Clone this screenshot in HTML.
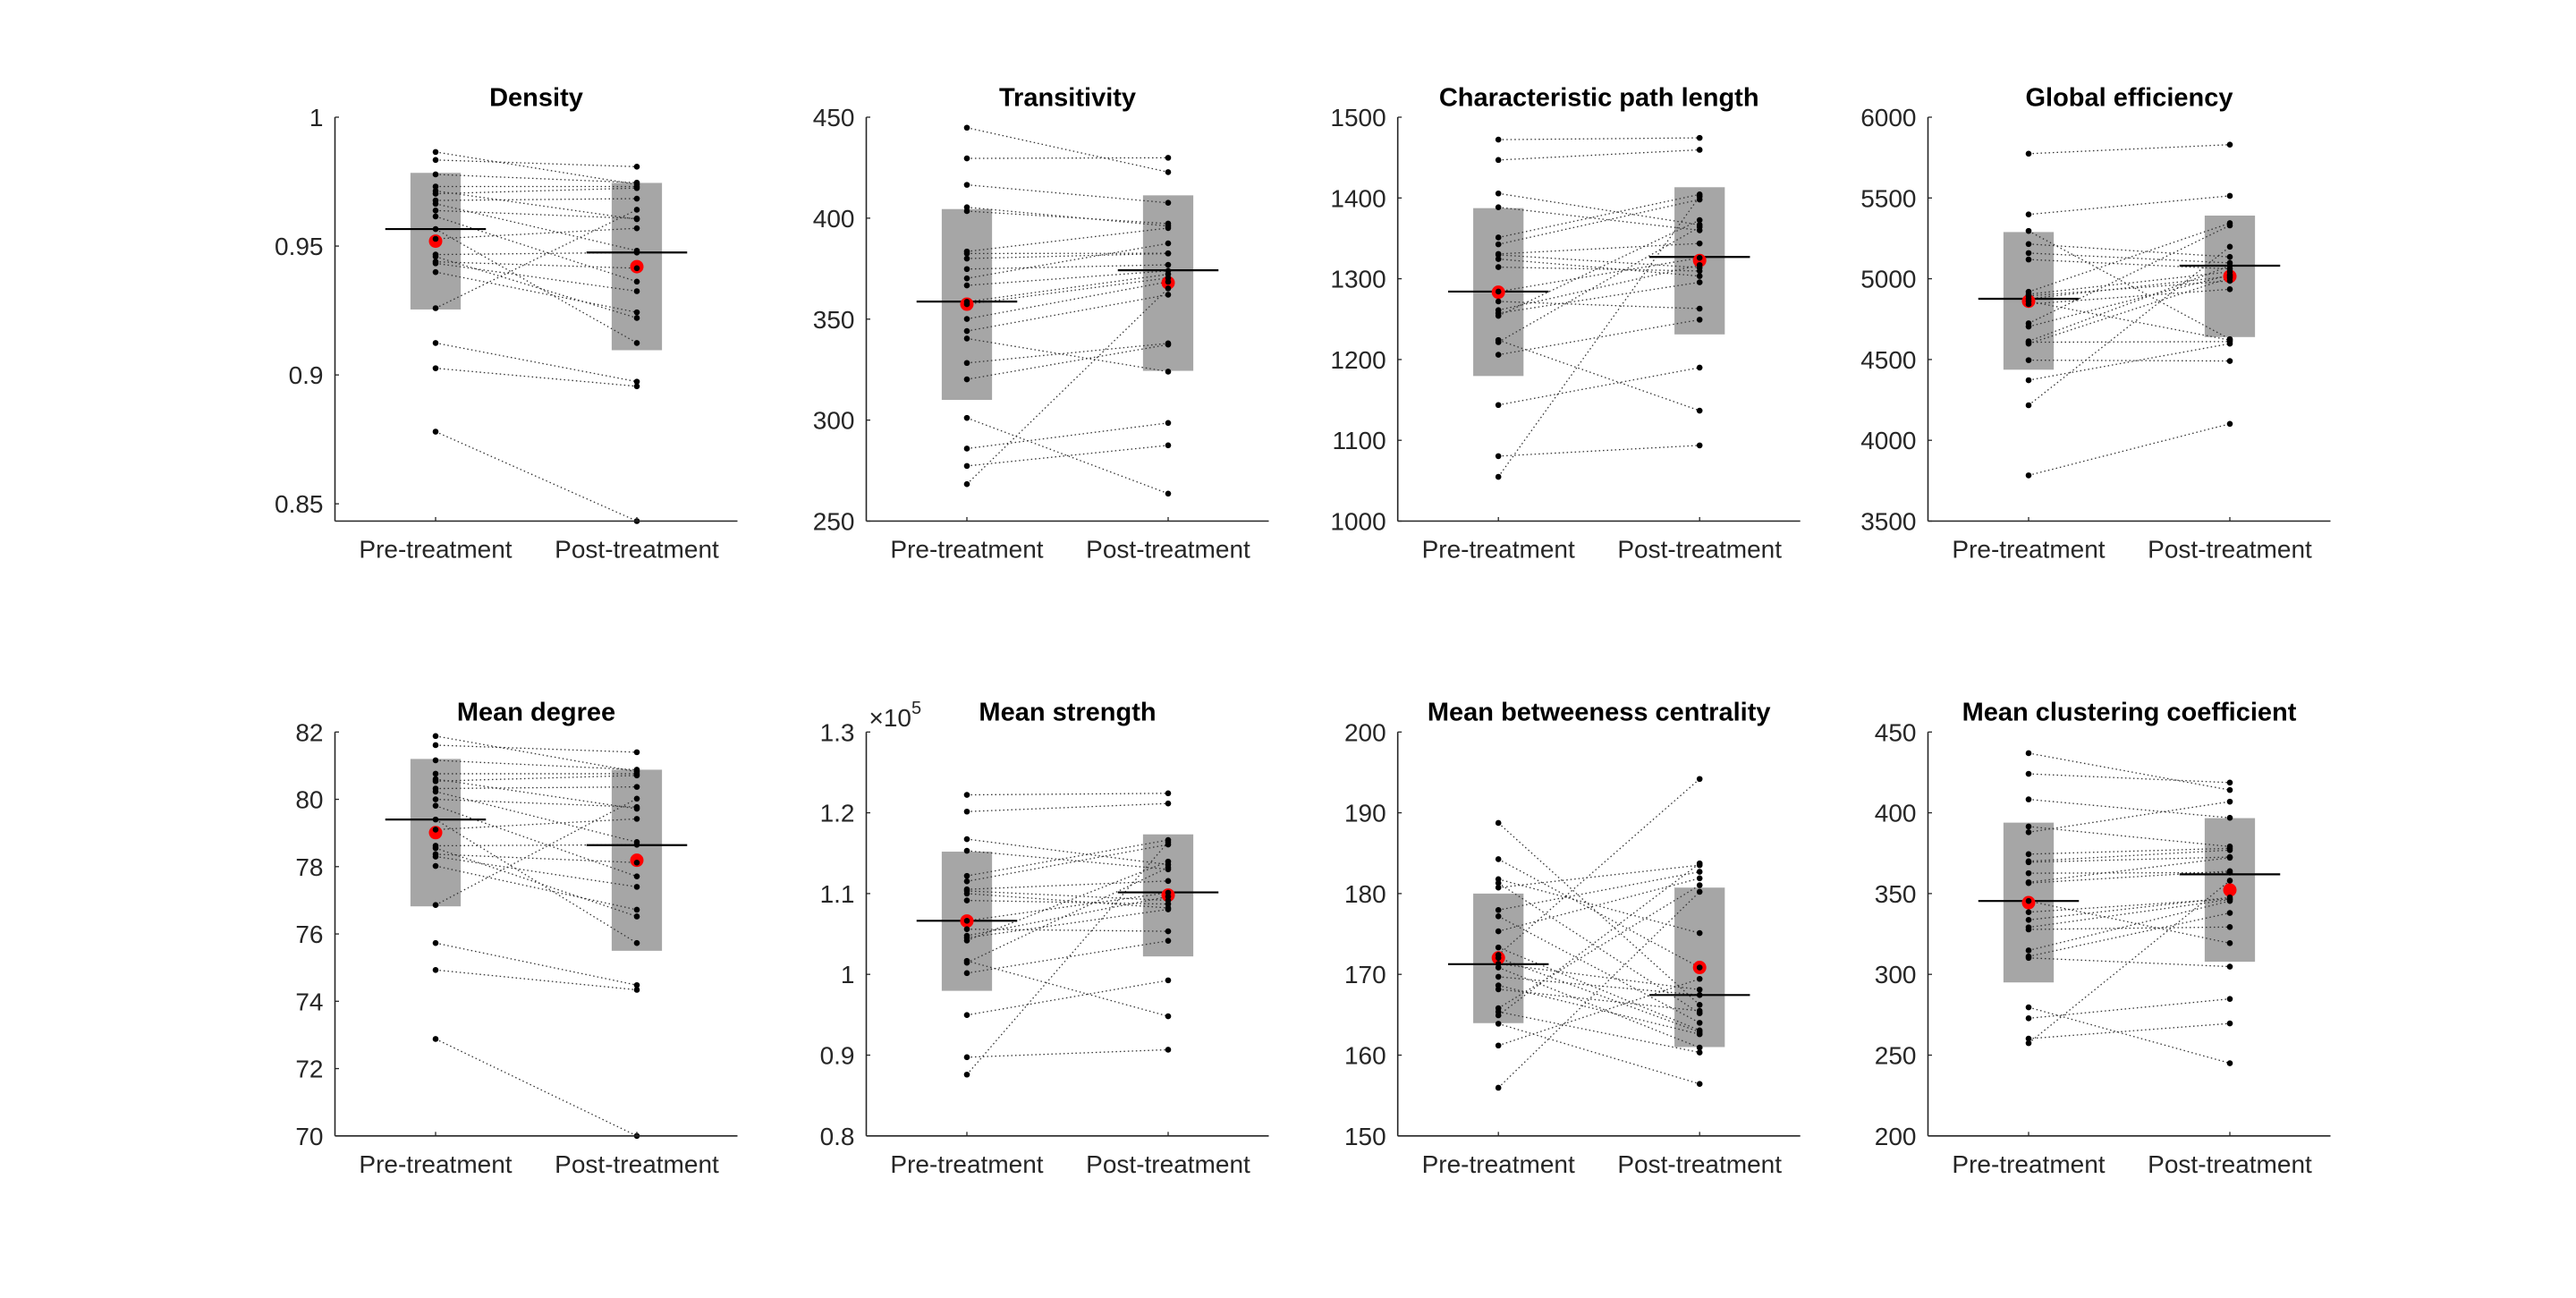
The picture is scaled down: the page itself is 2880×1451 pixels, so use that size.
<!DOCTYPE html>
<html><head><meta charset="utf-8"><style>
html,body{margin:0;padding:0;background:#fff;}
svg{display:block;font-family:"Liberation Sans",Arial,sans-serif;}
</style></head><body>
<svg id="fig" width="2880" height="1451" viewBox="0 0 2880 1451" xmlns="http://www.w3.org/2000/svg"></svg>
<script>
const categories = ["Pre-treatment", "Post-treatment"];
const titles = ["Density","Transitivity","Characteristic path length","Global efficiency","Mean degree","Mean strength","Mean betweeness centrality","Mean clustering coefficient"];

const densityPre  = [0.9865,0.9834,0.9778,0.9731,0.9714,0.9703,0.9677,0.9664,0.9638,0.9615,0.9566,0.9528,0.9467,0.9459,0.9439,0.9433,0.9399,0.9259,0.9124,0.9026,0.8780];
const densityPost = [0.9739,0.9808,0.9746,0.9731,0.9604,0.9725,0.9684,0.9482,0.9607,0.9362,0.9124,0.9569,0.9475,0.9221,0.9414,0.9325,0.9243,0.9641,0.8974,0.8956,0.8433];
const densityStats = {boxPre:[0.9254,0.9784], meanPre:0.9566, medPre:0.9519, boxPost:[0.9096,0.9745], meanPost:0.9475, medPost:0.9420};

const transPre  = [444.8,429.6,416.5,405.4,403.5,383.5,382.5,380.0,374.8,370.2,366.7,358.6,357.4,350.1,344.1,340.4,328.3,320.2,301.1,285.9,277.3,268.3];
const transPost = [422.8,429.9,407.6,396.1,397.3,395.1,382.6,382.5,376.9,387.5,373.9,372.2,370.4,368.5,362.1,324.0,338.0,337.4,263.6,298.6,287.5,365.2];
const transStats = {boxPre:[310.0,404.5], meanPre:358.7, medPre:357.4, boxPost:[324.4,411.3], meanPost:374.2, medPost:368.0};

const cplPre  = [1472.2,1447.0,1405.6,1388.5,1351.1,1342.6,1330.7,1329.6,1324.4,1314.4,1284.1,1271.9,1261.1,1257.4,1254.1,1224.1,1221.5,1205.9,1143.7,1080.4,1054.8];
const cplPost = [1474.4,1459.6,1366.7,1360.0,1404.4,1398.1,1343.7,1313.7,1303.3,1309.6,1325.9,1263.0,1317.0,1295.6,1372.6,1136.7,1364.1,1249.3,1190.0,1093.7,1401.9];
const cplStats = {boxPre:[1179.6,1387.4], meanPre:1284.1, medPre:1283.3, boxPost:[1231.1,1413.3], meanPost:1327.0, medPost:1322.6};

const gePre  = [5774,5398,5296,5215,5159,5119,4919,4904,4894,4876,4861,4843,4724,4704,4613,4607,4598,4496,4372,4217,3783];
const gePost = [5830,5513,4626,5135,5098,5061,5344,5043,4987,5015,4620,4935,5330,5024,5080,4611,5006,4491,4598,5198,4102];
const geStats = {boxPre:[4437,5289], meanPre:4876, medPre:4861, boxPost:[4639,5391], meanPost:5081, medPost:5015};

const degPre  = [81.88,81.61,81.16,80.76,80.60,80.54,80.32,80.23,80.00,79.81,79.40,79.10,78.62,78.55,78.37,78.30,78.02,76.86,75.73,74.93,72.88];
const degPost = [80.82,81.40,80.88,80.76,79.72,80.71,80.37,78.73,79.77,77.71,75.73,79.42,78.65,76.52,78.12,77.40,76.72,80.02,74.48,74.34,70.00];
const degStats = {boxPre:[76.82,81.20], meanPre:79.40, medPre:79.01, boxPost:[75.50,80.88], meanPost:78.64, medPost:78.19};

const strPre  = [1.2222,1.2015,1.1674,1.1530,1.1219,1.1152,1.1052,1.1033,1.1000,1.0915,1.0663,1.0559,1.0478,1.0452,1.0419,1.0167,1.0144,1.0015,0.9496,0.8974,0.8759];
const strPost = [1.2241,1.2115,1.1359,1.1300,1.1663,1.1607,1.1156,1.0915,1.0822,1.0870,1.1011,1.0533,1.0963,1.0804,1.1396,0.9481,1.1322,1.0415,0.9926,0.9067,1.1637];
const strStats = {boxPre:[0.9796,1.1519], meanPre:1.0663, medPre:1.0660, boxPost:[1.0222,1.1733], meanPost:1.1015, medPost:1.0981};

const btwPre  = [188.74,184.26,181.78,181.30,180.74,177.96,177.19,175.33,173.33,172.41,172.04,171.30,170.85,169.70,168.63,168.15,165.81,165.37,164.93,163.89,161.19,155.96];
const btwPost = [166.22,170.85,175.11,165.19,183.52,182.70,164.00,181.89,163.07,194.19,162.85,168.11,160.93,167.44,162.59,165.48,181.04,160.33,183.74,156.44,169.44,180.22];
const btwStats = {boxPre:[163.96,180.0], meanPre:171.26, medPre:172.04, boxPost:[161.0,180.74], meanPost:167.44, medPost:170.85};

const cluPre  = [436.9,424.1,408.3,391.5,388.0,374.4,370.0,369.4,362.6,357.0,356.5,345.4,338.5,333.7,329.1,327.8,314.8,311.1,310.2,279.6,272.8,260.2,257.4];
const cluPost = [414.1,418.7,396.9,379.1,406.9,378.0,376.9,372.6,363.0,372.2,363.9,319.3,346.7,347.6,346.3,329.3,345.4,338.0,304.8,245.0,284.8,269.6,358.0];
const cluStats = {boxPre:[295.0,393.9], meanPre:345.4, medPre:344.4, boxPost:[307.8,396.7], meanPost:361.9, medPost:352.2};

const yLimits = [[0.8433,1],[250,450],[1000,1500],[3500,6000],[70,82],[0.8,1.3],[150,200],[200,450]];
const yTicks = [[0.85,0.9,0.95,1],[250,300,350,400,450],[1000,1100,1200,1300,1400,1500],[3500,4000,4500,5000,5500,6000],[70,72,74,76,78,80,82],[0.8,0.9,1,1.1,1.2,1.3],[150,160,170,180,190,200],[200,250,300,350,400,450]];
const yTickLabels = [["0.85","0.9","0.95","1"],["250","300","350","400","450"],["1000","1100","1200","1300","1400","1500"],["3500","4000","4500","5000","5500","6000"],["70","72","74","76","78","80","82"],["0.8","0.9","1","1.1","1.2","1.3"],["150","160","170","180","190","200"],["200","250","300","350","400","450"]];

const preSets  = [densityPre,transPre,cplPre,gePre,degPre,strPre,btwPre,cluPre];
const postSets = [densityPost,transPost,cplPost,gePost,degPost,strPost,btwPost,cluPost];
const statSets = [densityStats,transStats,cplStats,geStats,degStats,strStats,btwStats,cluStats];
const slugs = ["density","transitivity","path-length","global-efficiency","mean-degree","mean-strength","betweenness","clustering"];

const NS = "http://www.w3.org/2000/svg";
const svg = document.getElementById("fig");
const LEFTS = [374.5, 968.5, 1562.7, 2155.5];
const TOPS = [131, 818.3];
const W = 450, H = 451.5;
const AX = "#262626";

function mk(tag, attrs, parent){
  const e = document.createElementNS(NS, tag);
  for (const k in attrs) e.setAttribute(k, attrs[k]);
  parent.appendChild(e);
  return e;
}

for (let p = 0; p < 8; p++) {
  const L = LEFTS[p % 4], T = TOPS[Math.floor(p / 4)];
  const [y0, y1] = yLimits[p];
  const sx = v => L + (v - 0.5) / 2 * W;
  const sy = v => T + H - (v - y0) / (y1 - y0) * H;
  const g = mk("g", {}, svg);
  
  
  const st = statSets[p];
  const pre = preSets[p], post = postSets[p];

  // boxes
  [[1, st.boxPre],[2, st.boxPost]].forEach(([c, b]) => {
    const r = mk("rect", {x: sx(c - 0.125), y: sy(b[1]), width: sx(c + 0.125) - sx(c - 0.125), height: sy(b[0]) - sy(b[1]), fill: "#a6a6a6"}, g);
    
    
  });
  // paired lines
  for (let i = 0; i < pre.length; i++) {
    const ln = mk("line", {x1: sx(1), y1: sy(pre[i]), x2: sx(2), y2: sy(post[i]), stroke: "#333", "stroke-width": 1.3, "stroke-dasharray": "1.5 3"}, g);
    
    
  }
  // mean lines
  [[1, st.meanPre],[2, st.meanPost]].forEach(([c, m]) => {
    const ml = mk("line", {x1: sx(c - 0.25), x2: sx(c + 0.25), y1: sy(m), y2: sy(m), stroke: "#000", "stroke-width": 2.2}, g);
    
    
  });
  // median red dots
  [[1, st.medPre],[2, st.medPost]].forEach(([c, m]) => {
    const rd = mk("circle", {cx: sx(c), cy: sy(m), r: 7.5, fill: "#ff0000"}, g);
    
    
  });
  // points
  for (let i = 0; i < pre.length; i++) {
    const a = mk("circle", {cx: sx(1), cy: sy(pre[i]), r: 3.3, fill: "#000"}, g);
    
    
    const b = mk("circle", {cx: sx(2), cy: sy(post[i]), r: 3.3, fill: "#000"}, g);
    
    
  }
  // axes
  const ya = mk("line", {x1: L, x2: L, y1: T, y2: T + H, stroke: AX, "stroke-width": 1.6}, g);
  
  
  const xa = mk("line", {x1: L, x2: L + W, y1: T + H, y2: T + H, stroke: AX, "stroke-width": 1.6}, g);
  
  
  // y ticks
  yTicks[p].forEach((tv, k) => {
    const y = sy(tv);
    const tk = mk("line", {x1: L, x2: L + 4.5, y1: y, y2: y, stroke: AX, "stroke-width": 1.3}, g);
    
    
    const tl = mk("text", {x: L - 13, y: y + 10, "text-anchor": "end", "font-size": 28, fill: AX}, g);
    tl.textContent = yTickLabels[p][k];
    
    
  });
  // x ticks
  categories.forEach((c, k) => {
    const x = sx(k + 1);
    const tk = mk("line", {x1: x, x2: x, y1: T + H, y2: T + H - 4.5, stroke: AX, "stroke-width": 1.3}, g);
    
    
    const tl = mk("text", {x: x, y: T + H + 41, "text-anchor": "middle", "font-size": 28, fill: AX}, g);
    tl.textContent = c;
    
    
  });
  // title
  const tt = mk("text", {x: L + W / 2, y: T - 12.6, "text-anchor": "middle", "font-size": 29, "font-weight": "bold", fill: "#000"}, g);
  tt.textContent = titles[p];
  
  
  if (p === 5) {
    const ex = mk("text", {x: L + 3, y: T - 6.5, "font-size": 28, fill: AX}, g);
    ex.textContent = "×10";
    
    
    const ts = mk("tspan", {dy: -14, "font-size": 20}, ex);
    ts.textContent = "5";
  }
}
</script>
</body></html>
